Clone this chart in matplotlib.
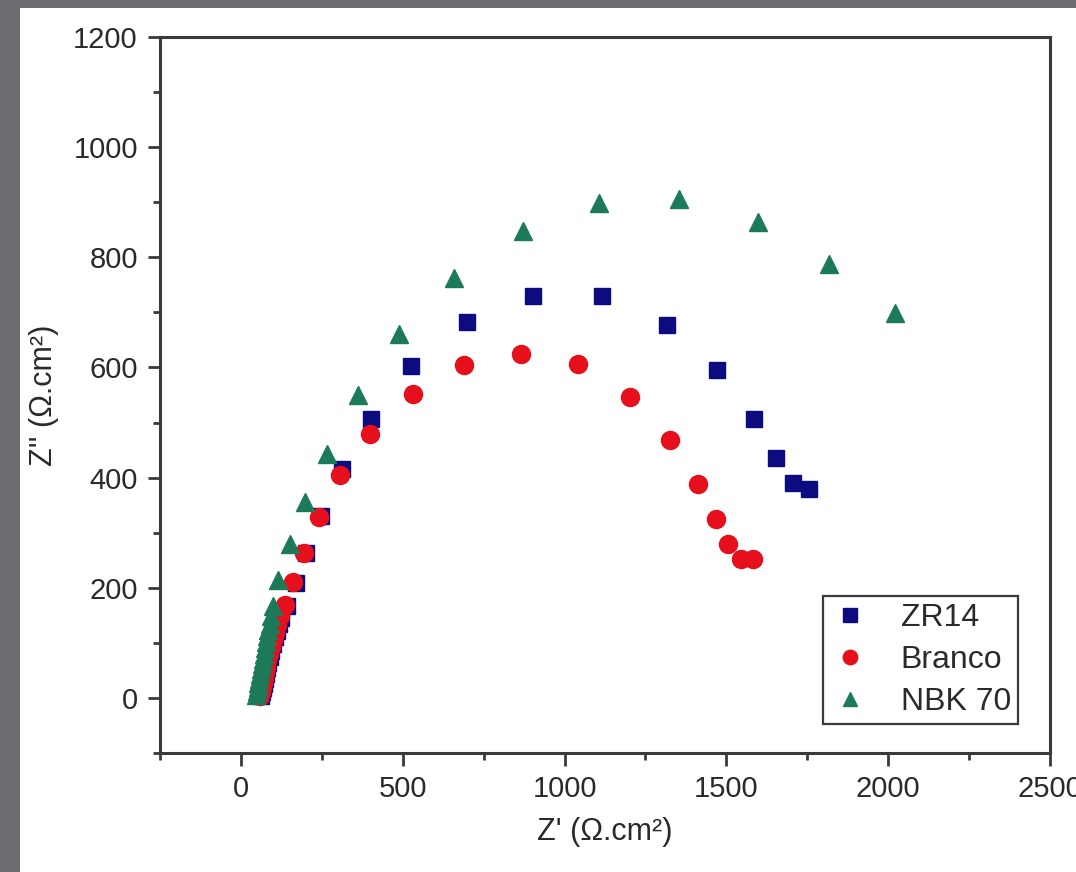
import matplotlib
matplotlib.use("Agg")
import matplotlib.pyplot as plt
from matplotlib.patches import Rectangle
from matplotlib.ticker import MultipleLocator

# ---- data ----
zr14_x = [62, 65, 68, 71, 74, 77, 81, 85, 89, 94, 99, 104, 110, 117, 124, 143, 169, 200,
          246, 313, 403, 526, 698, 901, 1115, 1318, 1472, 1586, 1653, 1707, 1755]
zr14_y = [3, 10, 18, 26, 35, 44, 54, 64, 74, 86, 98, 110, 122, 134, 145, 167, 209, 264,
          330, 416, 506, 603, 683, 730, 730, 677, 595, 506, 435, 391, 379]

branco_x = [58, 61, 64, 67, 70, 74, 78, 82, 87, 92, 98, 104, 111, 120, 136, 160, 194, 240,
            306, 400, 531, 688, 866, 1041, 1203, 1326, 1411, 1467, 1506, 1545, 1583]
branco_y = [3, 11, 19, 28, 37, 47, 57, 68, 80, 92, 105, 118, 132, 148, 169, 211, 264, 329,
            405, 479, 552, 604, 625, 607, 546, 468, 389, 324, 280, 252, 252]

nbk_x = [48, 50, 52, 54, 56, 58, 61, 64, 67, 70, 73, 77, 81, 85, 89, 94, 99, 115, 151, 199,
         266, 362, 490, 657, 873, 1107, 1354, 1599, 1817, 2021]
nbk_y = [5, 12, 19, 27, 35, 43, 52, 61, 70, 80, 90, 101, 112, 123, 134, 148, 167, 215, 279,
         356, 443, 550, 660, 762, 847, 899, 905, 864, 787, 699]

series_labels = ["ZR14", "Branco", "NBK 70"]
x_label = "Z' (\u03a9.cm\u00b2)"
y_label = "Z'' (\u03a9.cm\u00b2)"

# ---- styling ----
plt.rcParams['font.family'] = ['Liberation Sans', 'DejaVu Sans']
text_color = '#2a2a2a'
spine_color = '#3a3a3a'

W, H, DPI = 1076, 872, 100
fig = plt.figure(figsize=(W / DPI, H / DPI), dpi=DPI)
fig.patch.set_facecolor('#6b6b70')
fig.add_artist(Rectangle((20 / W, 0), 1 - 20 / W, (H - 8) / H,
                         transform=fig.transFigure, facecolor='white',
                         edgecolor='none', zorder=0))

ax = fig.add_axes([160 / W, 1 - 753 / H, 890 / W, 716 / H])
ax.set_facecolor('white')

ms = 13
ax.plot(zr14_x, zr14_y, linestyle='none', marker='s', ms=ms * 0.92,
        color='#0c0c80', label=series_labels[0])
ax.plot(branco_x, branco_y, linestyle='none', marker='o', ms=ms,
        color='#e5101c', label=series_labels[1])
ax.plot(nbk_x, nbk_y, linestyle='none', marker='^', ms=ms,
        color='#1c7a58', label=series_labels[2])

ax.set_xlim(-250, 2500)
ax.set_ylim(-100, 1200)
ax.xaxis.set_major_locator(MultipleLocator(500))
ax.xaxis.set_minor_locator(MultipleLocator(250))
ax.yaxis.set_major_locator(MultipleLocator(200))
ax.yaxis.set_minor_locator(MultipleLocator(100))

for s in ax.spines.values():
    s.set_color(spine_color)
    s.set_linewidth(2.2)

ax.tick_params(which='major', direction='out', length=9, width=2,
               color=spine_color, labelsize=21, labelcolor=text_color, pad=7)
ax.tick_params(which='minor', direction='out', length=5, width=2, color=spine_color)
ax.tick_params(top=False, right=False, which='both')

ax.set_xlabel(x_label, fontsize=22, color=text_color, labelpad=10)
ax.set_ylabel(y_label, fontsize=22, color=text_color, labelpad=10)

leg = ax.legend(loc='lower right', bbox_to_anchor=(0.964, 0.040),
                fontsize=23, frameon=True, fancybox=False, framealpha=1,
                markerscale=0.8, handlelength=1.2, handletextpad=1.0,
                labelspacing=0.38, borderpad=0.22, borderaxespad=0)
leg.get_frame().set_edgecolor(spine_color)
leg.get_frame().set_linewidth(1.6)
for t in leg.get_texts():
    t.set_color(text_color)

fig.savefig('out.png', dpi=DPI, facecolor=fig.get_facecolor())
